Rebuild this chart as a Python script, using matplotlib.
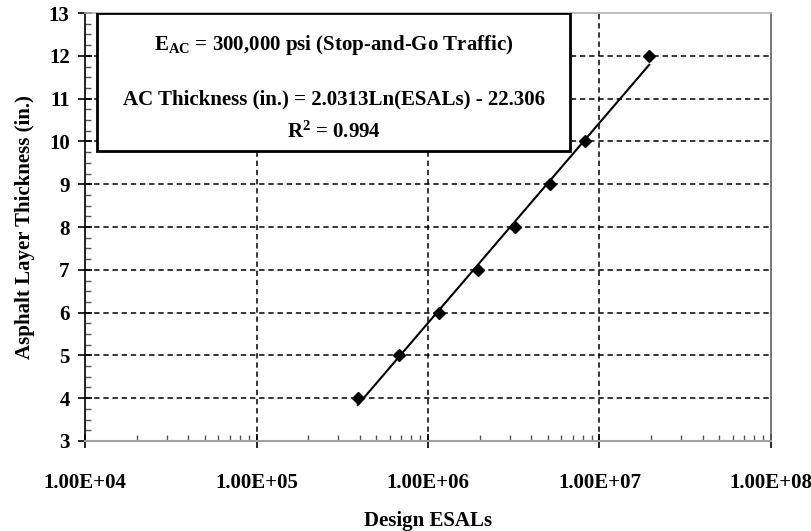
import matplotlib
matplotlib.use("Agg")
import matplotlib.pyplot as plt
from matplotlib.ticker import FixedLocator, MultipleLocator, LogLocator, NullFormatter, FixedFormatter
from matplotlib.patches import Rectangle
import numpy as np

plt.rcParams['font.family'] = ['Liberation Serif', 'DejaVu Serif']
plt.rcParams['font.weight'] = 'bold'
plt.rcParams['mathtext.fontset'] = 'custom'
plt.rcParams['mathtext.rm'] = 'Liberation Serif:bold'
plt.rcParams['mathtext.bf'] = 'Liberation Serif:bold'
plt.rcParams['mathtext.it'] = 'Liberation Serif:bold'

# Data
esals = [3.89e5, 6.78e5, 1.16e6, 1.95e6, 3.2e6, 5.14e6, 8.2e6, 1.95e7]
thickness = [4, 5, 6, 7, 8, 9, 10, 12]
coef_a = 2.0313
coef_b = -22.306
x_ticks = [1e4, 1e5, 1e6, 1e7, 1e8]
x_tick_labels = ["1.00E+04", "1.00E+05", "1.00E+06", "1.00E+07", "1.00E+08"]
y_ticks = [3, 4, 5, 6, 7, 8, 9, 10, 11, 12, 13]

FS = 15

fig = plt.figure(figsize=(8.12, 5.31), dpi=100)
ax = fig.add_axes([0.1047, 0.1695, 0.8448, 0.806])

ax.set_xscale('log')
ax.set_xlim(1e4, 1e8)
ax.set_ylim(3, 13)

# grid lines
for xv in [1e5, 1e6, 1e7]:
    ax.axvline(xv, color='black', lw=1.1, ls=(0, (3.5, 2.5)), zorder=1)
for yv in range(4, 13):
    ax.axhline(yv, color='black', lw=1.1, ls=(0, (3.5, 2.5)), zorder=1)

# trendline
xs = np.logspace(np.log10(min(esals)), np.log10(max(esals)), 100)
ax.plot(xs, coef_a * np.log(xs) + coef_b, color='black', lw=1.5, zorder=3)
ax.plot(esals, thickness, ls='none', marker='D', color='black', markersize=6, zorder=4)

ax.xaxis.set_major_locator(FixedLocator(x_ticks))
ax.xaxis.set_major_formatter(FixedFormatter(x_tick_labels))
ax.xaxis.set_minor_locator(LogLocator(base=10, subs=np.arange(2, 10)))
ax.xaxis.set_minor_formatter(NullFormatter())
ax.yaxis.set_major_locator(FixedLocator(y_ticks))
ax.yaxis.set_minor_locator(MultipleLocator(0.25))

ax.tick_params(axis='both', which='major', direction='inout', length=10, width=1.2, labelsize=FS, color='black')
ax.tick_params(axis='both', which='minor', direction='in', length=4, width=1.0, color='#555555')
ax.tick_params(axis='x', which='major', pad=18)
ax.tick_params(axis='y', which='major', pad=6)
for lab in ax.get_xticklabels() + ax.get_yticklabels():
    lab.set_fontweight('bold')

ax.spines['left'].set_color('black')
ax.spines['left'].set_linewidth(1.2)
ax.spines['bottom'].set_color('#a0a0a0')
ax.spines['bottom'].set_linewidth(1.5)
ax.spines['top'].set_color('#b0b0b0')
ax.spines['top'].set_linewidth(1.2)
ax.spines['right'].set_color('#606060')
ax.spines['right'].set_linewidth(1.2)

ax.set_xlabel('Design ESALs', fontsize=FS, fontweight='bold', labelpad=13)
ax.set_ylabel('Asphalt Layer Thickness (in.)', fontsize=FS, fontweight='bold', labelpad=10)

# text box
rect = Rectangle((0.0175, 0.678), 0.69, 0.322, transform=ax.transAxes,
                 facecolor='white', edgecolor='black', lw=2.0, zorder=5)
ax.add_patch(rect)
cx = 0.0175 + 0.69 / 2
ax.text(cx, 0.925, r'E$_{\mathrm{AC}}$ = 300,000 psi (Stop-and-Go Traffic)', transform=ax.transAxes,
        ha='center', va='center', fontsize=FS, fontweight='bold', zorder=6)
ax.text(cx, 0.799, 'AC Thickness (in.) = 2.0313Ln(ESALs) - 22.306', transform=ax.transAxes,
        ha='center', va='center', fontsize=FS, fontweight='bold', zorder=6)
ax.text(cx, 0.722, r'R$^{2}$ = 0.994', transform=ax.transAxes,
        ha='center', va='center', fontsize=FS, fontweight='bold', zorder=6)

fig.savefig('out.png', dpi=100)
